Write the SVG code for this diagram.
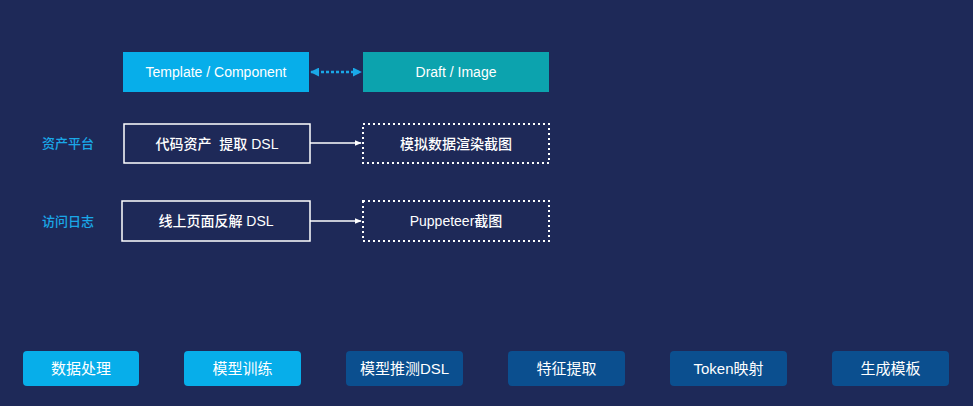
<svg xmlns="http://www.w3.org/2000/svg" width="973" height="406" viewBox="0 0 973 406">
<defs>
<style>
.t{font-family:"Liberation Sans","Noto Sans CJK SC",sans-serif;fill:#fff;text-anchor:middle;dominant-baseline:central;font-weight:500}
.s{font-size:14px}
.b{font-size:15px;font-weight:400}
.lbl{font-family:"Liberation Sans","Noto Sans CJK SC",sans-serif;fill:#1aa8e8;font-size:13px;text-anchor:middle;dominant-baseline:central;font-weight:500}
.box{fill:none;stroke:#fff;stroke-width:1.5}
.dot{fill:none;stroke:#fff;stroke-width:2;stroke-dasharray:2 3}
.light{fill:#07aeea}
.dark{fill:#0b4f8f}
</style>
<marker id="wa" viewBox="0 0 10 10" refX="9" refY="5" markerWidth="4.5" markerHeight="4.5" orient="auto-start-reverse">
<path d="M0,1 L10,5 L0,9 Z" fill="#fff"/>
</marker>
<marker id="ba" viewBox="0 0 10 10" refX="9" refY="5" markerWidth="3.6" markerHeight="3.6" orient="auto-start-reverse">
<path d="M0,0 L10,5 L0,10 Z" fill="#1aa8e8"/>
</marker>
</defs>
<rect width="973" height="406" fill="#1e2958"/>
<g id="template">
<rect x="123" y="52" width="186" height="40" fill="#07aeea"/>
<text class="t s" x="216" y="72">Template / Component</text>
</g>
<g id="draft">
<rect x="363" y="52" width="186" height="40" fill="#0ca3ae"/>
<text class="t s" x="456" y="72">Draft / Image</text>
</g>
<g id="label-asset"><text class="lbl" x="68" y="143">资产平台</text></g>
<g id="label-log"><text class="lbl" x="68" y="221">访问日志</text></g>
<g id="code-asset">
<rect class="box" x="124" y="124" width="186" height="39"/>
<text class="t s" x="217" y="143.5" xml:space="preserve">代码资产  提取 DSL</text>
</g>
<g id="mock-render">
<rect class="dot" x="363" y="124" width="186" height="39"/>
<text class="t s" x="456" y="143.5">模拟数据渲染截图</text>
</g>
<g id="online-page">
<rect class="box" x="122" y="201" width="188" height="40"/>
<text class="t s" x="216" y="221">线上页面反解 DSL</text>
</g>
<g id="puppeteer">
<rect class="dot" x="363" y="201" width="186" height="40"/>
<text class="t s" x="456" y="221">Puppeteer截图</text>
</g>
<g id="connectors">
<line x1="311" y1="72" x2="361" y2="72" stroke="#1aa8e8" stroke-width="2.5" stroke-dasharray="3 2" marker-start="url(#ba)" marker-end="url(#ba)"/>
<line x1="310" y1="143" x2="361" y2="143" stroke="#fff" stroke-width="1.5" marker-end="url(#wa)"/>
<line x1="310" y1="221" x2="361" y2="221" stroke="#fff" stroke-width="1.5" marker-end="url(#wa)"/>
</g>
<g id="step1"><rect class="light" x="23" y="351" width="116" height="35" rx="4"/><text class="t b" x="81" y="368.5">数据处理</text></g>
<g id="step2"><rect class="light" x="184" y="351" width="117" height="35" rx="4"/><text class="t b" x="242.5" y="368.5">模型训练</text></g>
<g id="step3"><rect class="dark" x="346" y="351" width="117" height="35" rx="4"/><text class="t b" x="404.5" y="368.5">模型推测DSL</text></g>
<g id="step4"><rect class="dark" x="508" y="351" width="117" height="35" rx="4"/><text class="t b" x="566.5" y="368.5">特征提取</text></g>
<g id="step5"><rect class="dark" x="670" y="351" width="117" height="35" rx="4"/><text class="t b" x="728.5" y="368.5">Token映射</text></g>
<g id="step6"><rect class="dark" x="832" y="351" width="117" height="35" rx="4"/><text class="t b" x="890.5" y="368.5">生成模板</text></g>
</svg>
